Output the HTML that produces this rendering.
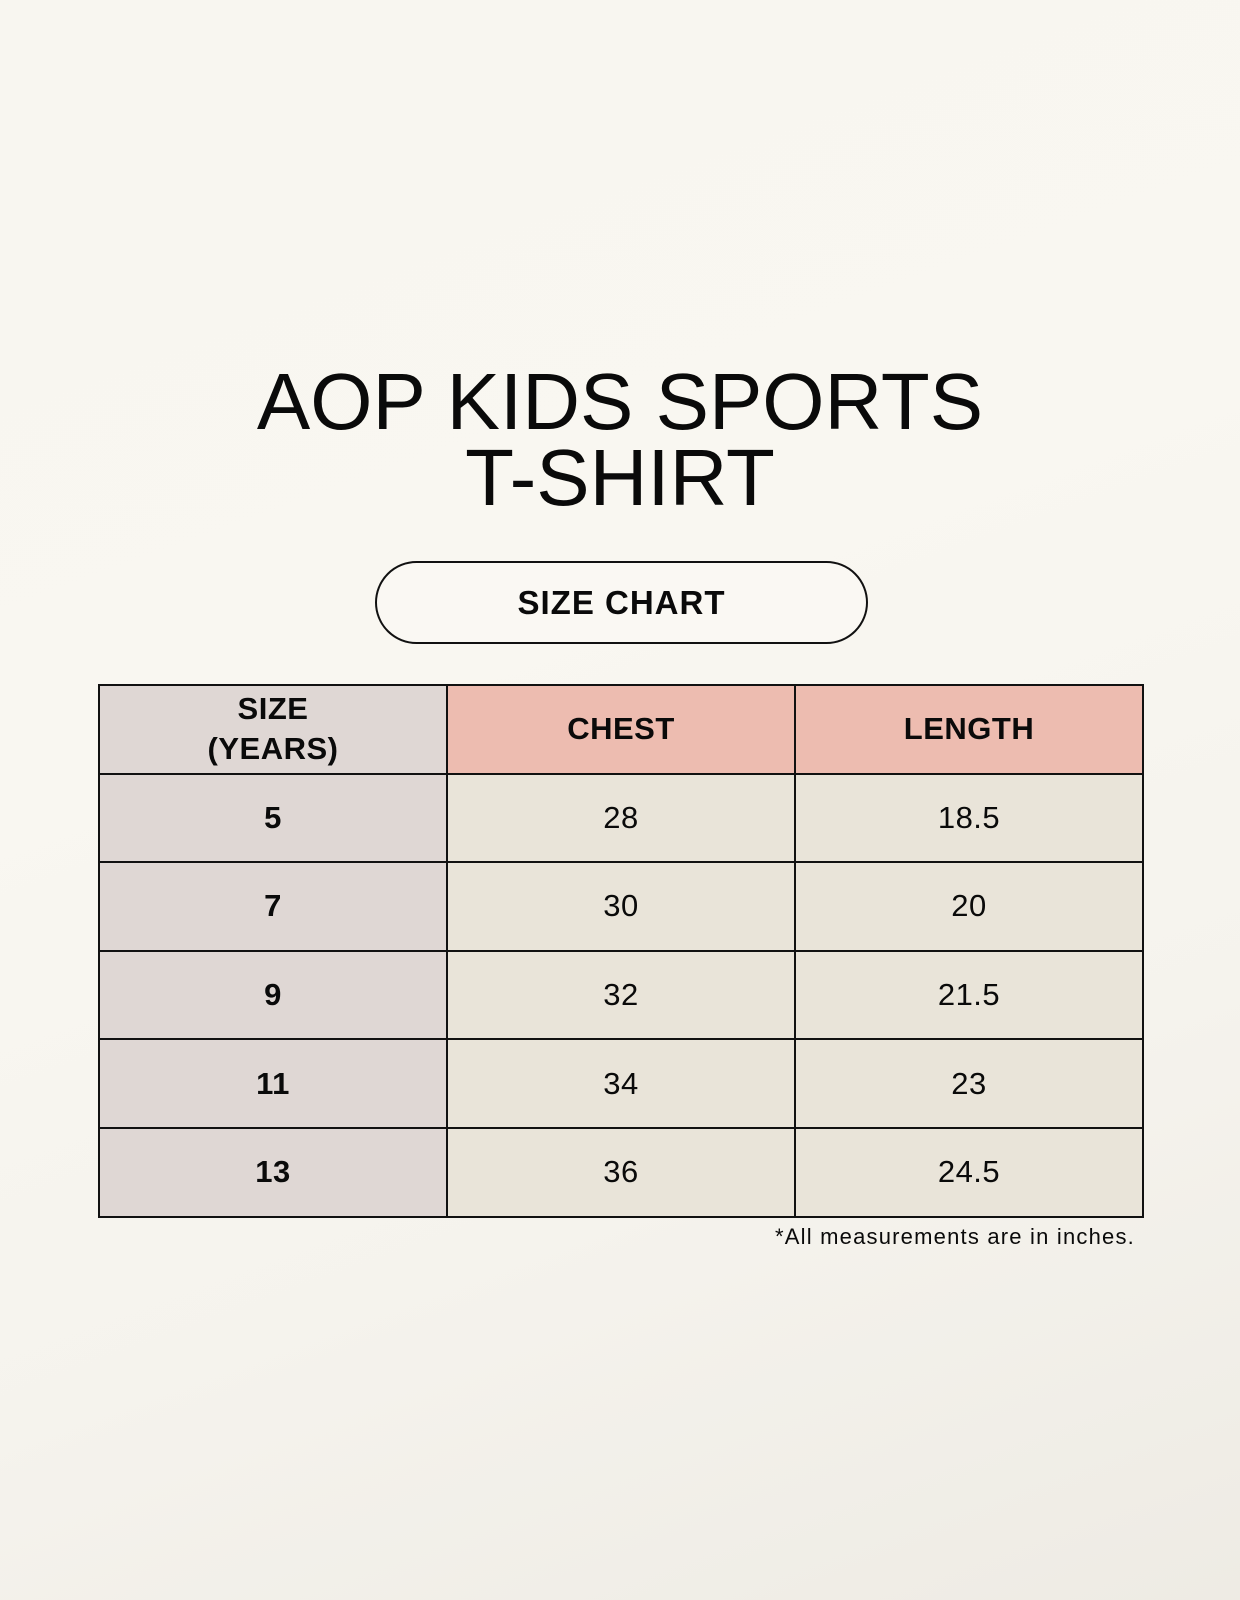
<!DOCTYPE html>
<html><head><meta charset="utf-8"><style>
html,body{margin:0;padding:0}
body{width:1240px;height:1600px;position:relative;overflow:hidden;
background:linear-gradient(160deg,#f8f6f0 0%,#f9f7f1 40%,#f5f3ed 70%,#eeebe4 100%);
font-family:"Liberation Sans",sans-serif;color:#0a0a0a}
.title{position:absolute;left:0;width:1240px;text-align:center;font-size:80px;line-height:76px;top:364px;letter-spacing:0px}
.pill{position:absolute;left:375px;top:561px;width:489px;height:79px;border:2px solid #111;border-radius:42px;background:#faf8f3;
text-align:center;line-height:79px;font-size:33px;font-weight:bold;letter-spacing:1px}
table{position:absolute;left:98px;top:684px;width:1046px;border-collapse:collapse;table-layout:fixed}
td{border:2px solid #111;height:86.6px;text-align:center;font-size:31px;background:#e9e4d9;padding:0;letter-spacing:0.5px;width:33.33%}
td.c1{background:#dfd7d4;font-weight:bold}
tr.h td{background:#edbcb0;font-weight:bold}
tr.h td.c1{background:#dfd7d4;line-height:40px}
.note{position:absolute;right:105px;top:1224px;font-size:22px;letter-spacing:1.2px}
</style></head><body>
<div class="title">AOP KIDS SPORTS<br>T-SHIRT</div>
<div class="pill">SIZE CHART</div>
<table>
<tr class="h"><td class="c1">SIZE<br>(YEARS)</td><td>CHEST</td><td>LENGTH</td></tr>
<tr><td class="c1">5</td><td>28</td><td>18.5</td></tr>
<tr><td class="c1">7</td><td>30</td><td>20</td></tr>
<tr><td class="c1">9</td><td>32</td><td>21.5</td></tr>
<tr><td class="c1">11</td><td>34</td><td>23</td></tr>
<tr><td class="c1">13</td><td>36</td><td>24.5</td></tr>
</table>
<div class="note">*All measurements are in inches.</div>
</body></html>
